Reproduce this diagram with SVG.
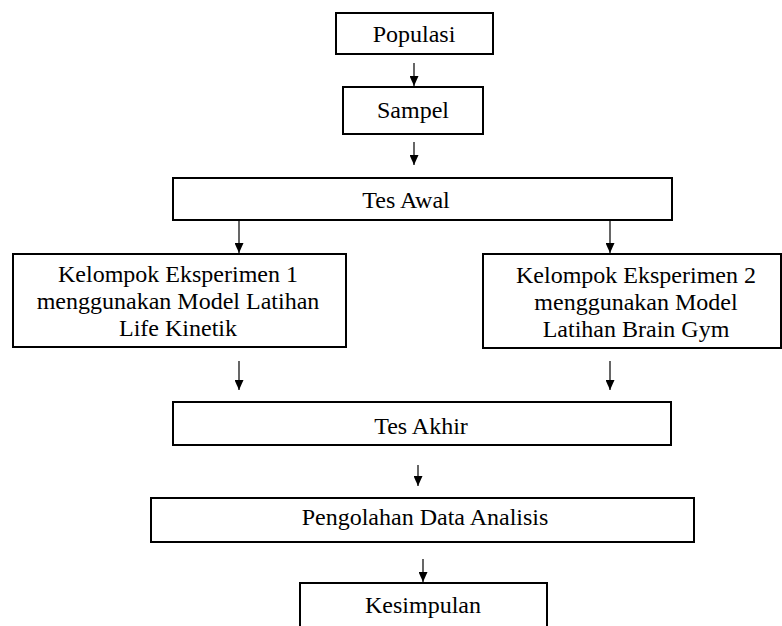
<svg xmlns="http://www.w3.org/2000/svg" width="782" height="626" viewBox="0 0 782 626">
<defs>
<style>
.box{fill:#fff;stroke:#000;stroke-width:2}
.t{font-family:'Liberation Serif','Times New Roman',serif;font-size:24px;fill:#000;text-anchor:middle}
.c{stroke:#000;stroke-width:1.2;fill:none;marker-end:url(#ah)}
</style>
<marker id="ah" markerUnits="userSpaceOnUse" markerWidth="10" markerHeight="9" refX="10" refY="4.5" orient="auto" viewBox="0 0 10 9">
<path d="M0,0 L10,4.5 L0,9 Z" fill="#000"/>
</marker>
</defs>
<rect width="782" height="626" fill="#fff"/>
<g id="connectors">
<line class="c" x1="414" y1="63" x2="414" y2="86"/>
<line class="c" x1="414" y1="142" x2="414" y2="165"/>
<line class="c" x1="239" y1="220" x2="239" y2="253"/>
<line class="c" x1="610" y1="220" x2="610" y2="253"/>
<line class="c" x1="239" y1="361" x2="239" y2="390"/>
<line class="c" x1="610" y1="361" x2="610" y2="390"/>
<line class="c" x1="418" y1="465" x2="418" y2="486"/>
<line class="c" x1="423" y1="559" x2="423" y2="582"/>
</g>
<g font-family="Liberation Serif, serif">
<g id="populasi">
<rect class="box" x="336" y="13" width="157" height="41"/>
<text class="t" x="414" y="42">Populasi</text>
</g>
<g id="sampel">
<rect class="box" x="343" y="87" width="140" height="47"/>
<text class="t" x="413" y="118">Sampel</text>
</g>
<g id="tes-awal">
<rect class="box" x="173" y="178" width="499" height="42"/>
<text class="t" x="406" y="208">Tes Awal</text>
</g>
<g id="kelompok-1">
<rect class="box" x="13" y="254" width="333" height="93"/>
<text class="t" x="178" y="282">Kelompok Eksperimen 1</text>
<text class="t" x="178" y="309">menggunakan Model Latihan</text>
<text class="t" x="178" y="336">Life Kinetik</text>
</g>
<g id="kelompok-2">
<rect class="box" x="483" y="254" width="298" height="94"/>
<text class="t" x="636" y="283">Kelompok Eksperimen 2</text>
<text class="t" x="636" y="310">menggunakan Model</text>
<text class="t" x="636" y="337">Latihan Brain Gym</text>
</g>
<g id="tes-akhir">
<rect class="box" x="173" y="402" width="498" height="43"/>
<text class="t" x="421" y="434">Tes Akhir</text>
</g>
<g id="pengolahan">
<rect class="box" x="151" y="498" width="543" height="44"/>
<text class="t" x="425" y="525">Pengolahan Data Analisis</text>
</g>
<g id="kesimpulan">
<rect class="box" x="300" y="583" width="247" height="60"/>
<text class="t" x="423" y="613">Kesimpulan</text>
</g>
</g>
</svg>
